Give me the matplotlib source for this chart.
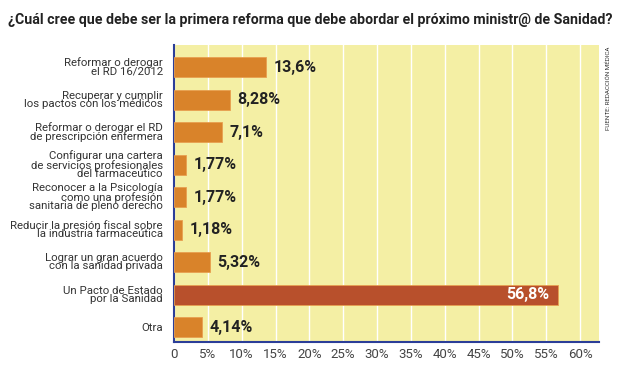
import matplotlib.pyplot as plt
import numpy as np

plt.rcParams['font.family'] = ['Roboto', 'DejaVu Sans']

categorias = [
    'Reformar o derogar\nel RD 16/2012',
    'Recuperar y cumplir\nlos pactos con los médicos',
    'Reformar o derogar el RD\nde prescripción enfermera',
    'Configurar una cartera\nde servicios profesionales\ndel farmaceútico',
    'Reconocer a la Psicología\ncomo una profesión\nsanitaria de pleno derecho',
    'Reducir la presión fiscal sobre\nla industria farmaceútica',
    'Lograr un gran acuerdo\ncon la sanidad privada',
    'Un Pacto de Estado\npor la Sanidad',
    'Otra',
]
valores = [13.6, 8.28, 7.1, 1.77, 1.77, 1.18, 5.32, 56.8, 4.14]
etiquetas = ['13,6%', '8,28%', '7,1%', '1,77%', '1,77%', '1,18%', '5,32%', '56,8%', '4,14%']
ticks = [0, 5, 10, 15, 20, 25, 30, 35, 40, 45, 50, 55, 60]
tick_labels = ['0'] + [f'{t}%' for t in ticks[1:]]

naranja = '#D9832A'
rojo = '#B8502C'
fondo = '#F4EFA4'
azul = '#2B3E98'

fig = plt.figure(figsize=(6.2, 3.68), dpi=100)
ax = fig.add_axes([174 / 620, 1 - 342 / 368, (599 - 174) / 620, (342 - 45) / 368])
ax.set_facecolor(fondo)

y = np.arange(len(valores))
maximo = max(valores)
colores = [rojo if v == maximo else naranja for v in valores]
ax.barh(y, valores, height=0.615, color=colores, edgecolor='#E8A050', linewidth=0.6, zorder=3)

for yi, v, t in zip(y, valores, etiquetas):
    if v == maximo:
        ax.text(v - 1.3, yi, t, ha='right', va='center', color='white',
                fontsize=11.5, fontweight='bold', zorder=4)
    else:
        ax.text(v + 1.1, yi, t, ha='left', va='center', color='#222222',
                fontsize=11.5, fontweight='bold', zorder=4)

ax.set_xlim(0, 62.8)
ax.set_ylim(8.46, -0.677)
ax.set_xticks(ticks)
ax.set_xticklabels(tick_labels, fontsize=9.5, color='#444444')
ax.set_yticks(y)
ax.set_yticklabels(categorias, fontsize=8.2, color='#333333', linespacing=0.8)
ax.tick_params(axis='y', length=0, pad=8)
ax.tick_params(axis='x', length=0, pad=4)
ax.grid(axis='x', color='white', linewidth=1, zorder=1)
ax.set_axisbelow(True)

for lado in ['top', 'right']:
    ax.spines[lado].set_visible(False)
ax.spines['left'].set_color(azul)
ax.spines['bottom'].set_color(azul)
ax.spines['left'].set_linewidth(1.5)
ax.spines['bottom'].set_linewidth(1.5)

fig.text(0.5, 1 - 20 / 368, '¿Cuál cree que debe ser la primera reforma que debe abordar el próximo ministr@ de Sanidad?',
         ha='center', va='center', fontsize=10.2, fontweight='bold', color='#222222')
fig.text(608 / 620, 1 - 88 / 368, 'FUENTE: REDACCIÓN MÉDICA', rotation=90,
         ha='center', va='center', fontsize=4.5, color='#333333')

fig.savefig('out.png', dpi=100)
